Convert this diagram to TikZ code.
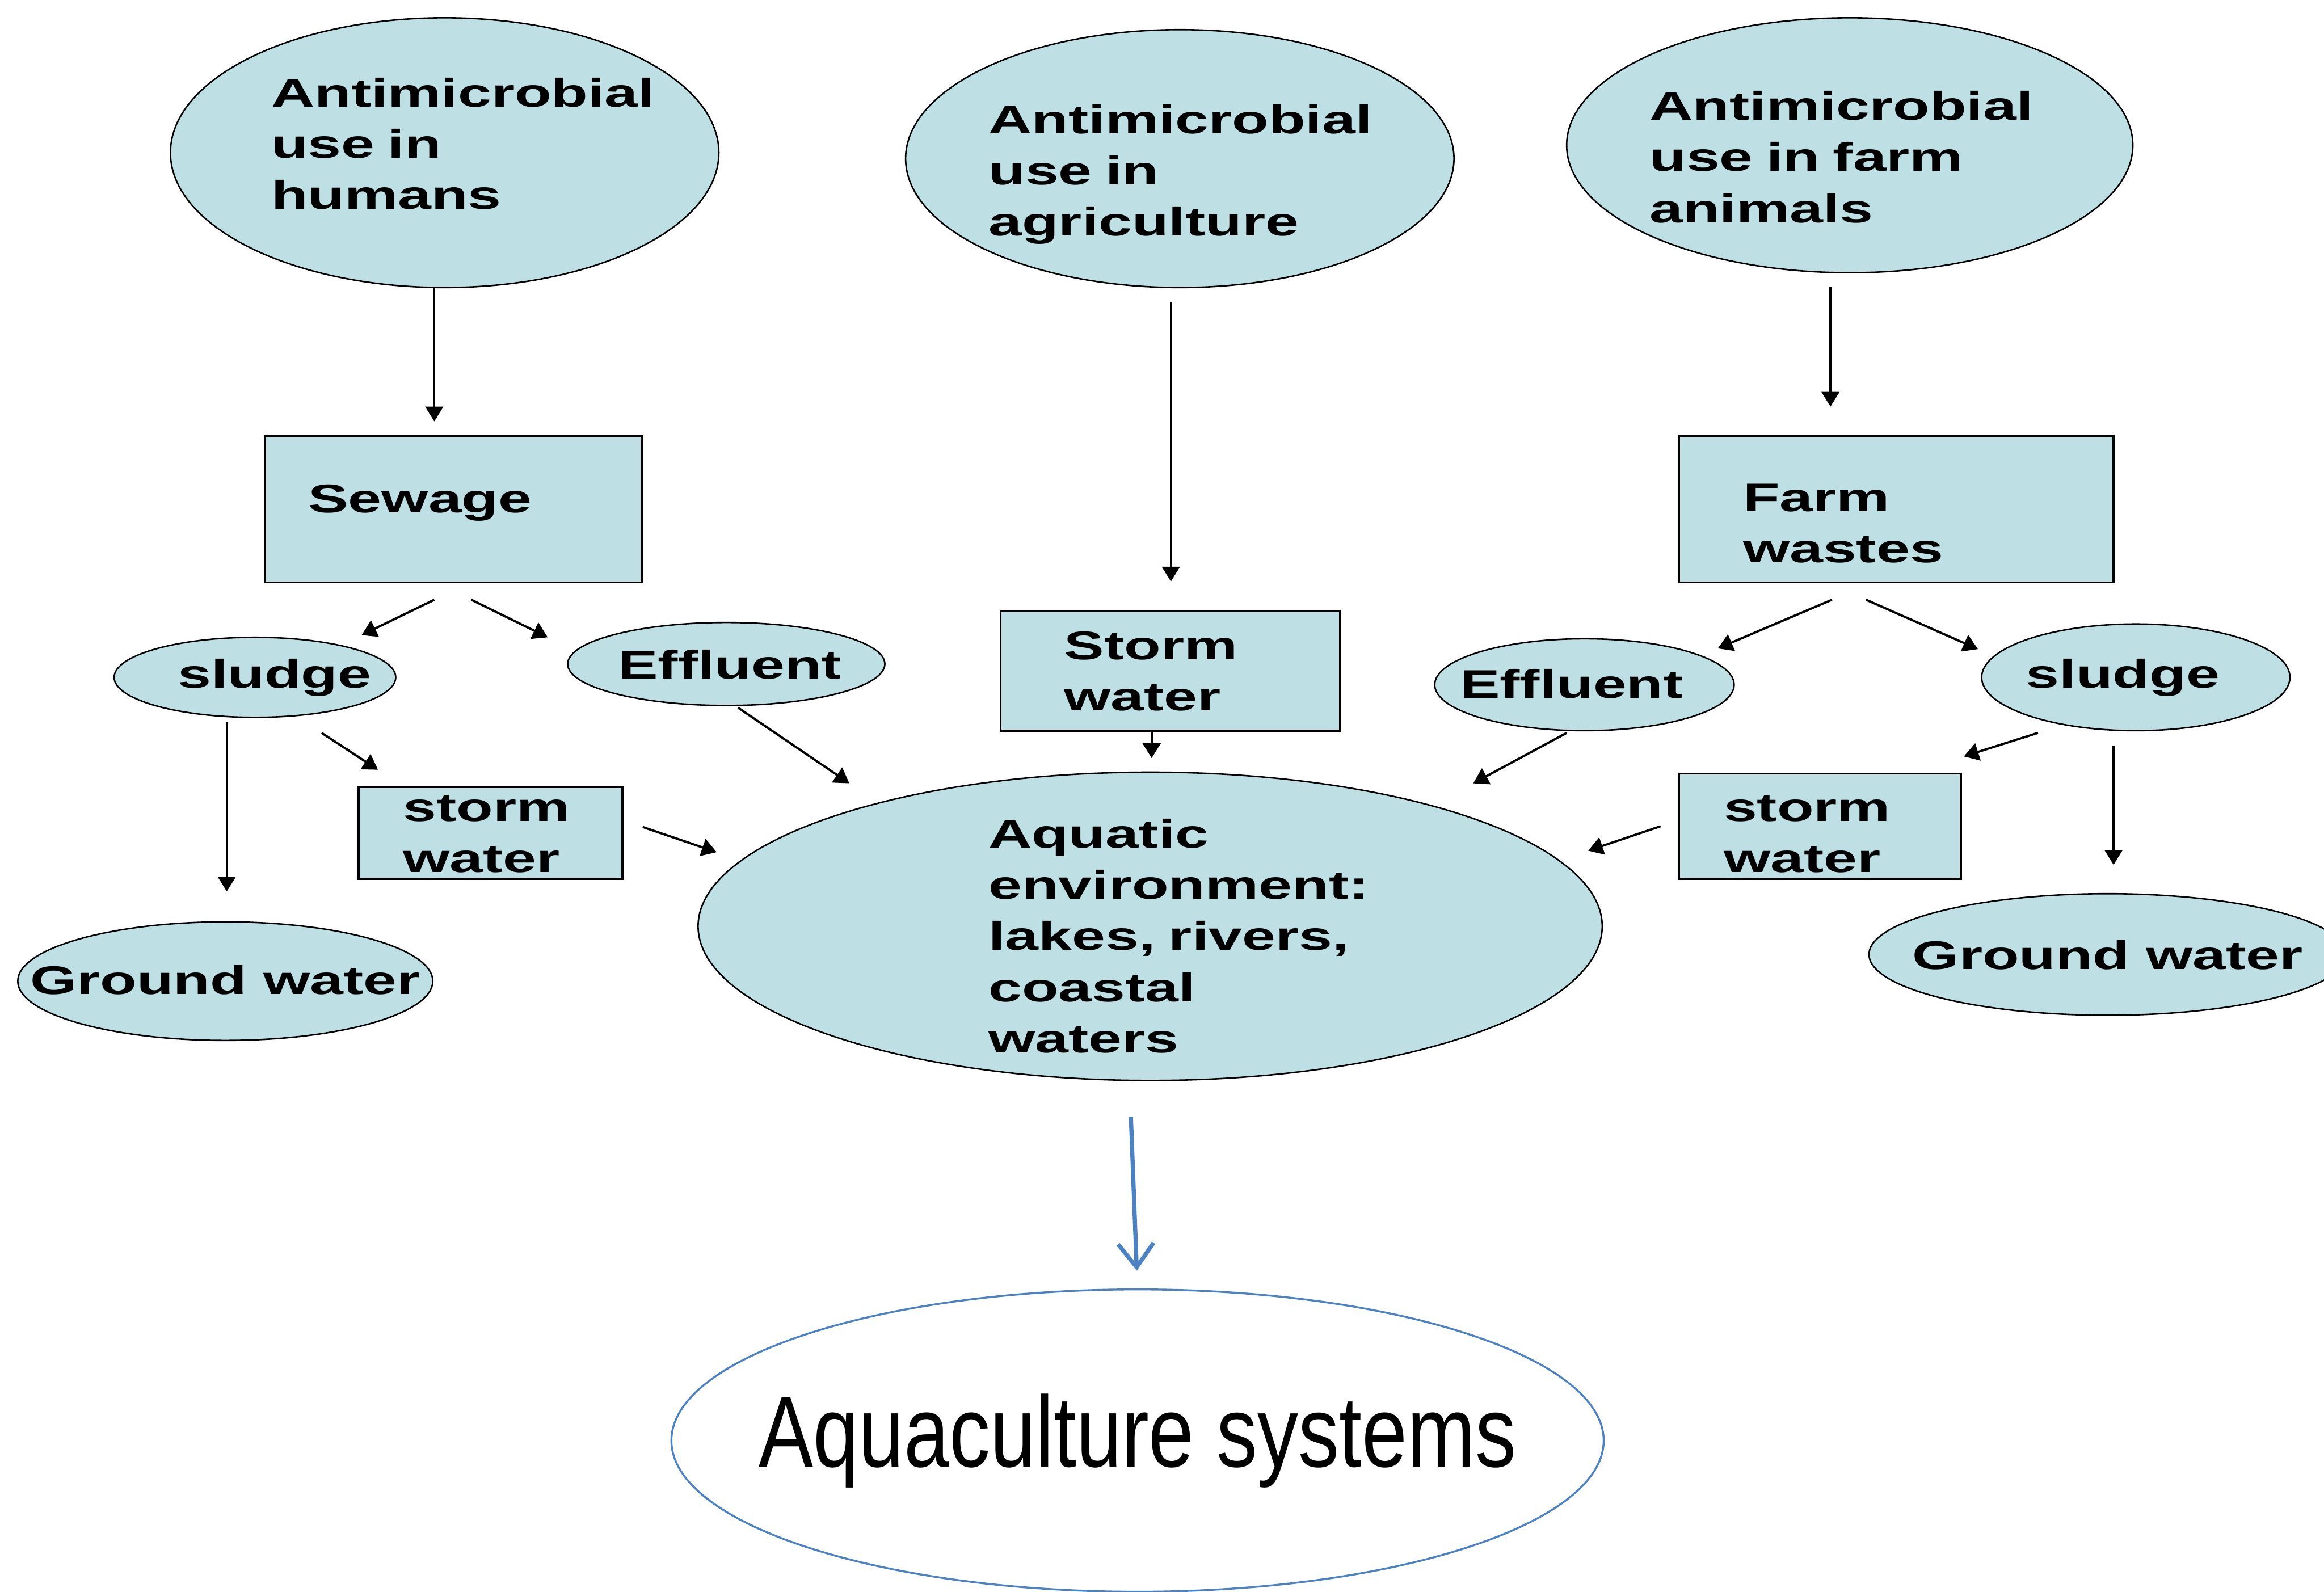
\documentclass[tikz,border=0pt]{standalone}
\usepackage{fontspec}
\setmainfont{Liberation Sans}
\newfontfamily\widefont[FakeStretch=1.5]{Liberation Sans}
\newfontfamily\narrowfont[FakeStretch=0.81]{Liberation Sans}
\usetikzlibrary{shapes.geometric,arrows.meta}
\definecolor{boxfill}{RGB}{190,223,227}
\definecolor{aqblue}{RGB}{76,130,194}
\hyphenpenalty=10000
\exhyphenpenalty=10000
\begin{document}
\begin{tikzpicture}[x=1pt,y=-1pt,
  every node/.style={inner xsep=-300pt,inner ysep=-200pt},
  lbl/.style={font=\widefont\bfseries\fontsize{27}{34.6}\selectfont,align=left},
  oval/.style={lbl,ellipse,draw=black,line width=1pt,fill=boxfill},
  box/.style={lbl,rectangle,draw=black,line width=1.3pt,fill=boxfill},
  up/.style={text height=#1pt,text depth=0pt},
  dn/.style={text height=0pt,text depth=#1pt},
  arr/.style={line width=1.5pt,-{Triangle[length=10pt,width=12pt]}},
  bluearr/.style={line width=2.8pt,draw=aqblue,-{Straight Barb[length=16pt,width=24pt]}}
]
\useasboundingbox (0,0) rectangle (1568,1074);
\clip (0,0) rectangle (1568,1074);
\fill[white] (0,0) rectangle (1568,1074);

% top ellipses
\node[oval,dn=62,minimum width=370pt,minimum height=182pt,text width=234pt] (e1) at (300,103) {Antimicrobial\\use in\\humans};
\node[oval,dn=34,minimum width=370pt,minimum height=174pt,text width=258pt] (e2) at (796,107) {Antimicrobial\\use in\\agriculture};
\node[oval,dn=34,minimum width=382pt,minimum height=172pt,text width=270pt] (e3) at (1248,98) {Antimicrobial\\use in farm\\animals};

% boxes
\node[box,up=5,minimum width=254pt,minimum height=99pt,text width=196pt] (sew) at (306,343.5) {Sewage};
\node[box,up=3,minimum width=293pt,minimum height=99pt,text width=207pt] (farm) at (1279.5,343.5) {Farm\\wastes};
\node[box,dn=15,minimum width=229pt,minimum height=81pt,text width=143pt] (stormc) at (789.5,452.5) {Storm\\water};
\node[box,dn=16,minimum width=178pt,minimum height=62pt,text width=118pt] (storml) at (331,562) {storm\\water};
\node[box,dn=7,minimum width=190pt,minimum height=71pt,text width=130pt] (stormr) at (1228,557.5) {storm\\water};

% small ellipses
\node[oval,up=14,minimum width=190pt,minimum height=54pt,text width=104pt] (sludgel) at (172,457) {sludge};
\node[oval,up=20,minimum width=214pt,minimum height=56pt,text width=146pt] (effl) at (490,448) {Effluent};
\node[oval,up=18,minimum width=202pt,minimum height=62pt,text width=168pt] (effr) at (1069,462) {Effluent};
\node[oval,up=14,minimum width=208pt,minimum height=72pt,text width=148pt] (sludger) at (1441,457) {sludge};
\node[oval,up=18,minimum width=280pt,minimum height=80pt] (groundl) at (152,662) {Ground water};
\node[oval,up=20,minimum width=322pt,minimum height=82pt] (groundr) at (1422,644) {Ground water};

% aquatic environment
\node[oval,dn=106,minimum width=610pt,minimum height=208pt,text width=218pt] (aq) at (776,625) {Aquatic\\environment:\\lakes,~rivers,\\coastal\\waters};

% aquaculture
\node[ellipse,draw=aqblue,line width=1.3pt,fill=white,minimum width=629pt,minimum height=204pt,font=\narrowfont\fontsize{68}{80}\selectfont] (aquac) at (767.5,972) {Aquaculture systems};

% connectors
\draw[arr] ([xshift=-7pt]e1.south) -- ([xshift=-13pt,yshift=9pt]sew.north);
\draw[arr] ([xshift=-6pt,yshift=-9pt]e2.south) -- ([xshift=0.5pt,yshift=19pt]stormc.north);
\draw[arr] ([xshift=-13pt,yshift=-9pt]e3.south) -- ([xshift=-44.5pt,yshift=19pt]farm.north);

\draw[arr] ([xshift=-13pt,yshift=-11pt]sew.south) -- ([xshift=72pt,yshift=1pt]sludgel.north);
\draw[arr] ([xshift=12pt,yshift=-11pt]sew.south) -- ([xshift=-13pt,yshift=18pt]effl.west);
\draw[arr] ([xshift=-19pt,yshift=-3pt]sludgel.south) -- ([xshift=1pt,yshift=20pt]groundl.north);
\draw[arr] ([xshift=45pt,yshift=-10pt]sludgel.south) -- ([xshift=-76pt,yshift=11pt]storml.north);
\draw[arr] ([xshift=8pt,yshift=-1pt]effl.south) -- ([xshift=-203pt,yshift=-8pt]aq.north);
\draw[arr] ([xshift=13pt,yshift=4pt]storml.east) -- ([xshift=13pt,yshift=50pt]aq.west);
\draw[arr] ([xshift=-12.5pt]stormc.south) -- ([xshift=1pt,yshift=9pt]aq.north);

\draw[arr] ([xshift=-43.5pt,yshift=-11pt]farm.south) -- ([xshift=90pt,yshift=-7pt]effr.north);
\draw[arr] ([xshift=-20.5pt,yshift=-11pt]farm.south) -- ([xshift=-2pt,yshift=19pt]sludger.west);
\draw[arr] ([xshift=-12pt,yshift=-1pt]effr.south) -- ([xshift=218pt,yshift=-8pt]aq.north);
\draw[arr] ([xshift=-12pt]stormr.west) -- ([xshift=-10pt,yshift=51pt]aq.east);
\draw[arr] ([xshift=-66pt,yshift=-1pt]sludger.south) -- ([xshift=97pt,yshift=11pt]stormr.north);
\draw[arr] ([xshift=-15pt,yshift=-10pt]sludger.south) -- ([xshift=4pt,yshift=19pt]groundr.north);

\draw[bluearr] ([xshift=-13pt,yshift=-24pt]aq.south) -- ([xshift=-0.5pt,yshift=12pt]aquac.north);
\end{tikzpicture}
\end{document}
